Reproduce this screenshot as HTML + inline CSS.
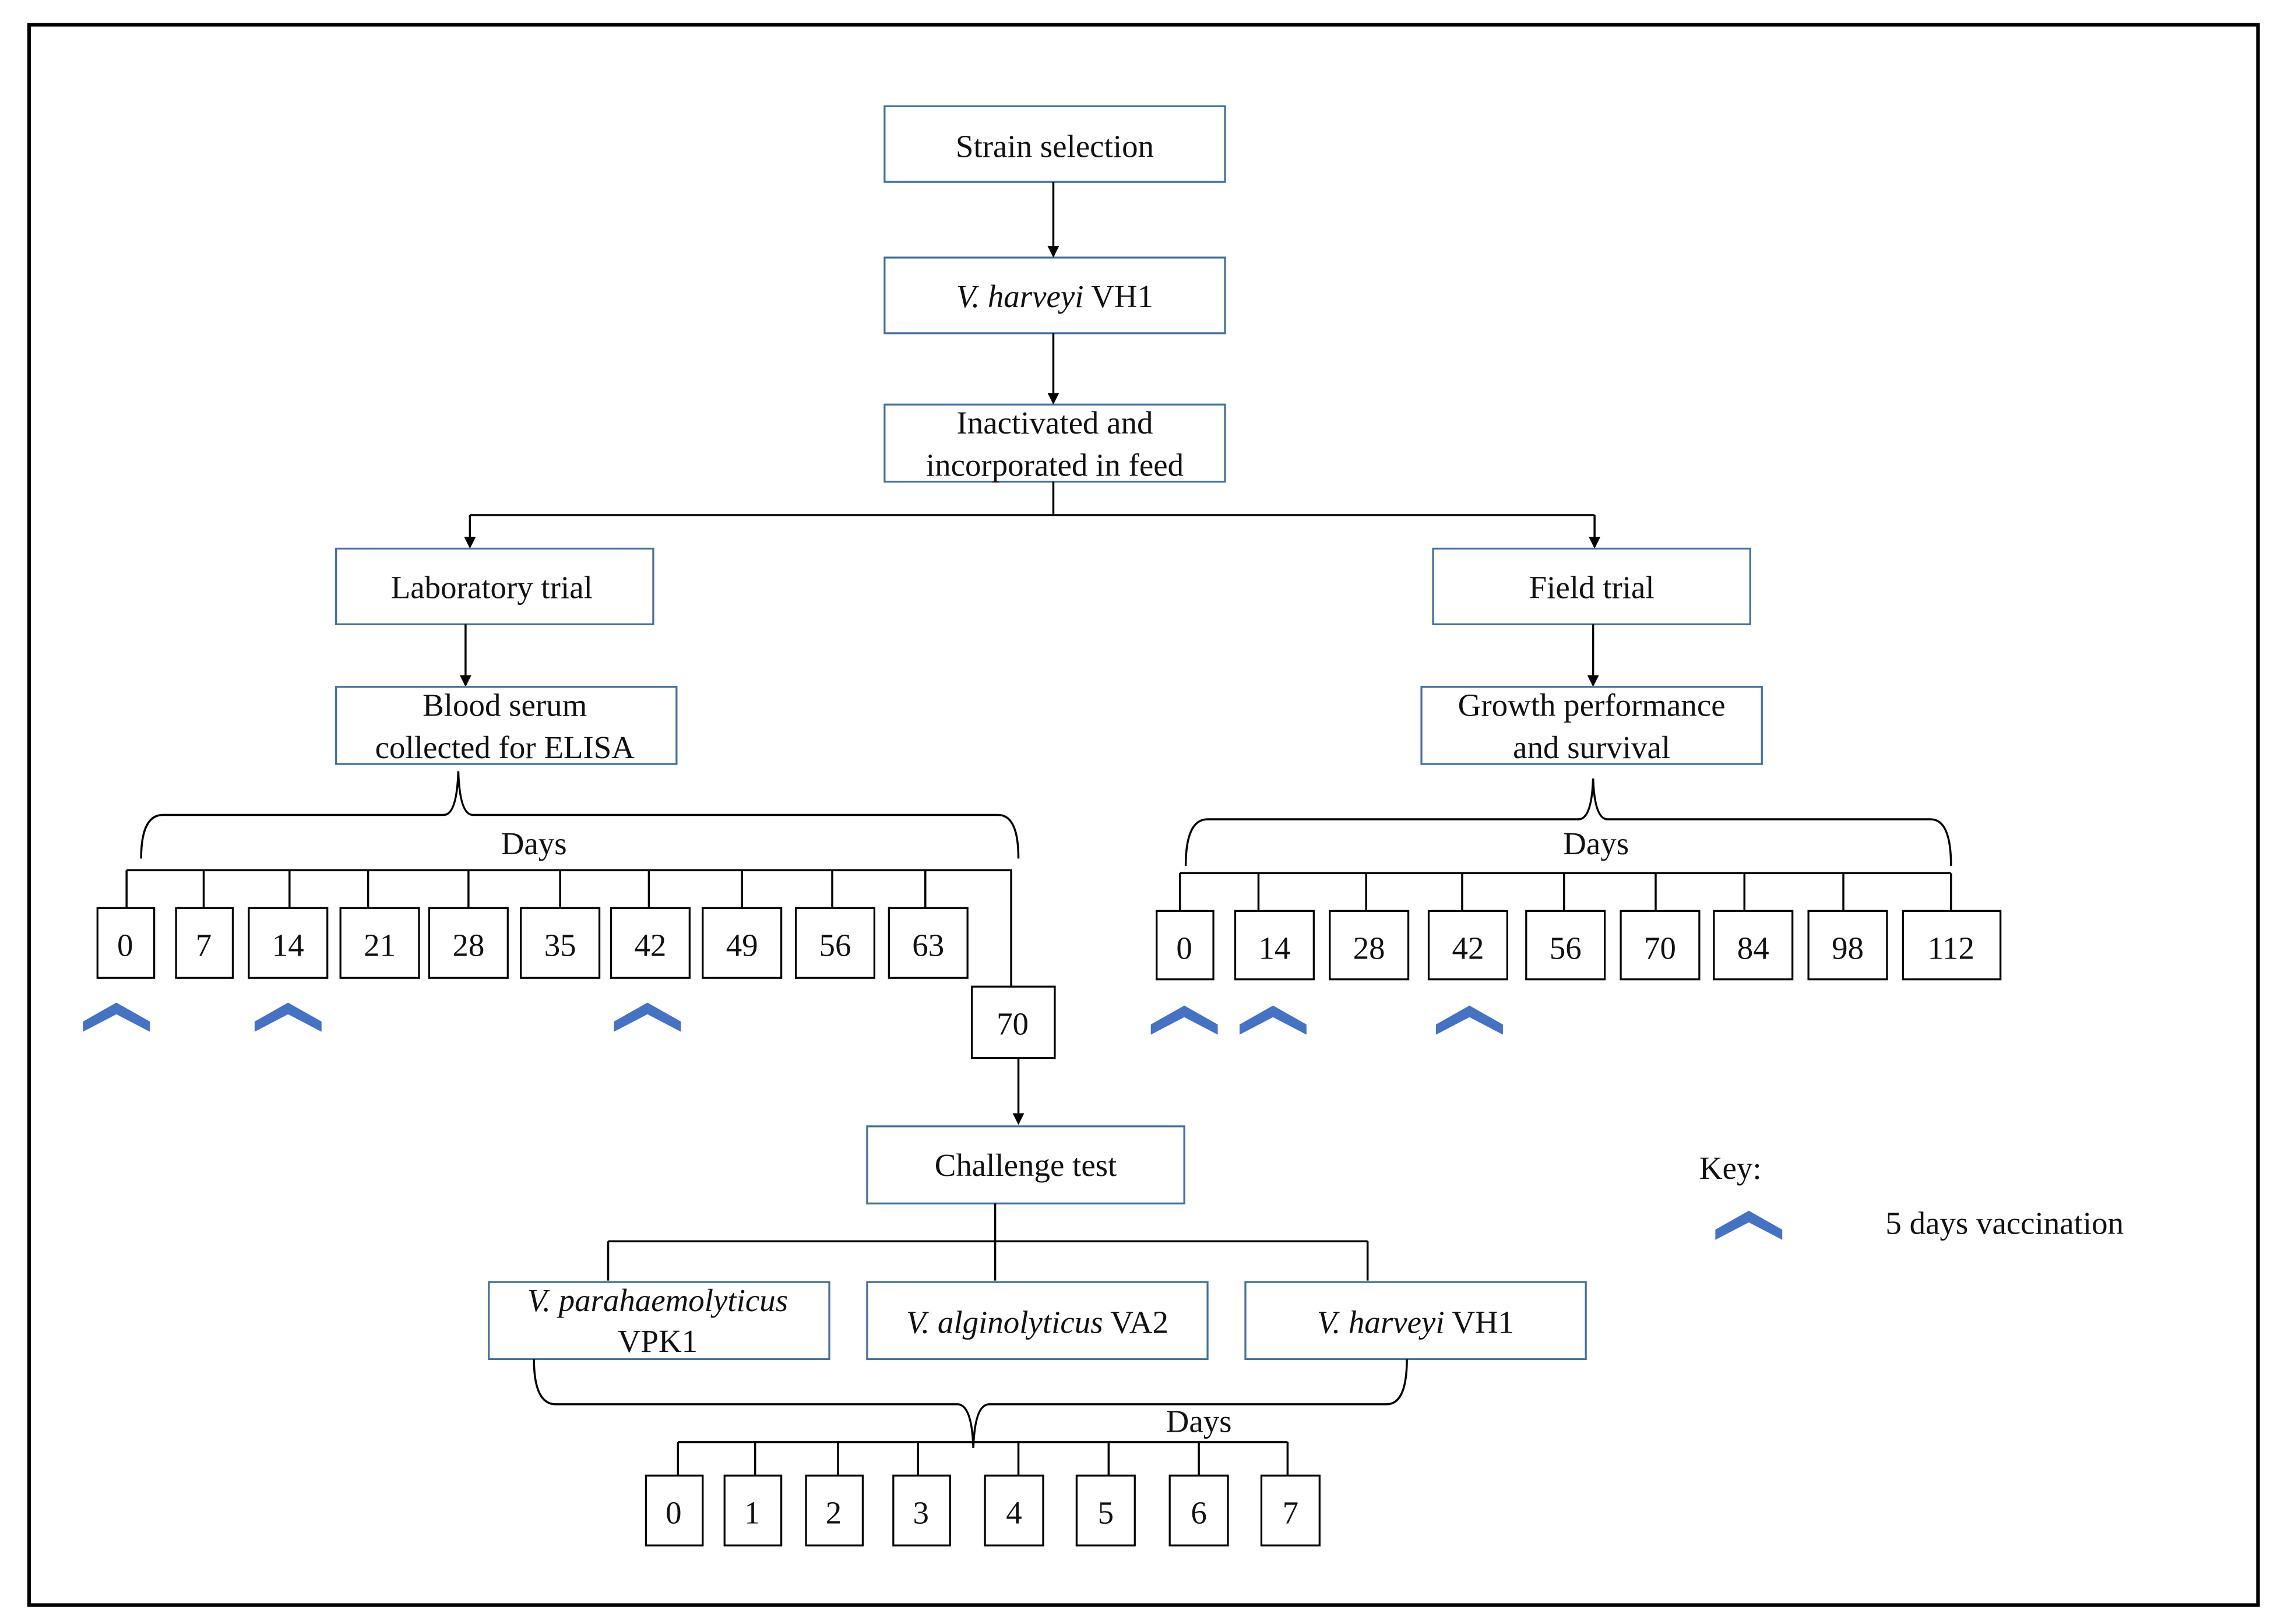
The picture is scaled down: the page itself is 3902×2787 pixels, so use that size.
<!DOCTYPE html>
<html><head><meta charset="utf-8"><style>
html,body{margin:0;padding:0;background:#fff;}
svg{display:block;}
text{font-family:"Liberation Serif",serif;font-size:22px;fill:#111;}
.b{fill:#fff;stroke:#41719c;stroke-width:1.3;}
.s{fill:#fff;stroke:#000;stroke-width:1.3;}
.l{stroke:#000;stroke-width:1.4;fill:none;}
.c{fill:#4472c4;}
</style></head><body>
<svg width="3902" height="2787" viewBox="0 0 1563 1116" preserveAspectRatio="none" xmlns="http://www.w3.org/2000/svg">
<defs><marker id="a" markerWidth="8" markerHeight="8" refX="7" refY="4" orient="auto" markerUnits="userSpaceOnUse"><path d="M0,0 L8,4 L0,8z" fill="#000"/></marker></defs>
<rect x="20" y="17" width="1532" height="1086" fill="none" stroke="#000" stroke-width="2.5"/>

<rect class="b" x="608" y="73" width="234" height="52"/><text x="725" y="108" text-anchor="middle">Strain selection</text>
<rect class="b" x="608" y="177" width="234" height="52"/><text x="725" y="211" text-anchor="middle"><tspan font-style="italic">V. harveyi</tspan> VH1</text>
<rect class="b" x="608" y="278" width="234" height="53"/><text x="725" y="298" text-anchor="middle">Inactivated and</text><text x="725" y="327" text-anchor="middle">incorporated in feed</text>
<line class="l" x1="724" y1="125" x2="724" y2="176" marker-end="url(#a)"/>
<line class="l" x1="724" y1="229" x2="724" y2="277" marker-end="url(#a)"/>
<path class="l" d="M724,331 V354 M323,354 H1096"/>
<line class="l" x1="323" y1="354" x2="323" y2="376" marker-end="url(#a)"/>
<line class="l" x1="1096" y1="354" x2="1096" y2="376" marker-end="url(#a)"/>

<rect class="b" x="231" y="377" width="218" height="52"/><text x="338" y="411" text-anchor="middle">Laboratory trial</text>
<rect class="b" x="985" y="377" width="218" height="52"/><text x="1094" y="411" text-anchor="middle">Field trial</text>
<line class="l" x1="320" y1="429" x2="320" y2="471" marker-end="url(#a)"/>
<line class="l" x1="1095" y1="429" x2="1095" y2="471" marker-end="url(#a)"/>
<rect class="b" x="231" y="472" width="234" height="53"/><text x="347" y="492" text-anchor="middle">Blood serum</text><text x="347" y="521" text-anchor="middle">collected for ELISA</text>
<rect class="b" x="977" y="472" width="234" height="53"/><text x="1094" y="492" text-anchor="middle">Growth performance</text><text x="1094" y="521" text-anchor="middle">and survival</text>

<path class="l" d="M97,590 Q97,560 112,560 H305 Q314,560 315,530 Q316,560 325,560 H686 Q700,560 700,590"/>
<text x="367" y="587" text-anchor="middle">Days</text>
<path class="l" d="M87,598 H695 V678 M87,598V624 M140,598V624 M199,598V624 M253,598V624 M322,598V624 M385,598V624 M446,598V624 M510,598V624 M572,598V624 M636,598V624"/>
<g>
<rect class="s" x="67" y="624" width="39" height="48"/><text x="86" y="657" text-anchor="middle" font-size="25">0</text>
<rect class="s" x="121" y="624" width="39" height="48"/><text x="140" y="657" text-anchor="middle" font-size="25">7</text>
<rect class="s" x="171" y="624" width="54" height="48"/><text x="198" y="657" text-anchor="middle" font-size="25">14</text>
<rect class="s" x="234" y="624" width="54" height="48"/><text x="261" y="657" text-anchor="middle" font-size="25">21</text>
<rect class="s" x="295" y="624" width="54" height="48"/><text x="322" y="657" text-anchor="middle" font-size="25">28</text>
<rect class="s" x="358" y="624" width="54" height="48"/><text x="385" y="657" text-anchor="middle" font-size="25">35</text>
<rect class="s" x="420" y="624" width="54" height="48"/><text x="447" y="657" text-anchor="middle" font-size="25">42</text>
<rect class="s" x="483" y="624" width="54" height="48"/><text x="510" y="657" text-anchor="middle" font-size="25">49</text>
<rect class="s" x="547" y="624" width="54" height="48"/><text x="574" y="657" text-anchor="middle" font-size="25">56</text>
<rect class="s" x="611" y="624" width="54" height="48"/><text x="638" y="657" text-anchor="middle" font-size="25">63</text>
<rect class="s" x="668" y="678" width="57" height="49"/><text x="696" y="711" text-anchor="middle" font-size="25">70</text>
</g>
<line class="l" x1="700" y1="727" x2="700" y2="772" marker-end="url(#a)"/>

<path class="l" d="M815,595 Q815,563 830,563 H1085 Q1094,563 1095,535 Q1096,563 1105,563 H1327 Q1341,563 1341,595"/>
<text x="1097" y="587" text-anchor="middle">Days</text>
<path class="l" d="M811,600 H1341 M811,600V626 M865,600V626 M939,600V626 M1005,600V626 M1075,600V626 M1138,600V626 M1199,600V626 M1267,600V626 M1341,600V626"/>
<g>
<rect class="s" x="795" y="626" width="39" height="47"/><text x="814" y="659" text-anchor="middle" font-size="25">0</text>
<rect class="s" x="849" y="626" width="54" height="47"/><text x="876" y="659" text-anchor="middle" font-size="25">14</text>
<rect class="s" x="914" y="626" width="54" height="47"/><text x="941" y="659" text-anchor="middle" font-size="25">28</text>
<rect class="s" x="982" y="626" width="54" height="47"/><text x="1009" y="659" text-anchor="middle" font-size="25">42</text>
<rect class="s" x="1049" y="626" width="54" height="47"/><text x="1076" y="659" text-anchor="middle" font-size="25">56</text>
<rect class="s" x="1114" y="626" width="54" height="47"/><text x="1141" y="659" text-anchor="middle" font-size="25">70</text>
<rect class="s" x="1178" y="626" width="54" height="47"/><text x="1205" y="659" text-anchor="middle" font-size="25">84</text>
<rect class="s" x="1243" y="626" width="54" height="47"/><text x="1270" y="659" text-anchor="middle" font-size="25">98</text>
<rect class="s" x="1308" y="626" width="67" height="47"/><text x="1341" y="659" text-anchor="middle" font-size="25">112</text>
</g>

<g class="c">
<path d="M57,702 L80,689 L103,702 L103,709 L80,697 L57,709z"/>
<path d="M175,702 L198,689 L221,702 L221,709 L198,697 L175,709z"/>
<path d="M422,702 L445,689 L468,702 L468,709 L445,697 L422,709z"/>
<path d="M791,704 L814,691 L837,704 L837,711 L814,699 L791,711z"/>
<path d="M852,704 L875,691 L898,704 L898,711 L875,699 L852,711z"/>
<path d="M987,704 L1010,691 L1033,704 L1033,711 L1010,699 L987,711z"/>
<path d="M1179,845 L1202,832 L1225,845 L1225,852 L1202,840 L1179,852z"/>
</g>
<text x="1168" y="810" font-size="30">Key:</text>
<text x="1296" y="848" font-size="32">5 days vaccination</text>

<rect class="b" x="596" y="774" width="218" height="53"/><text x="705" y="808" text-anchor="middle">Challenge  test</text>
<path class="l" d="M684,827 V880 M418,853 H940 M418,853 V880 M940,853 V880"/>
<rect class="b" x="336" y="881" width="234" height="53"/><text x="452" y="901" text-anchor="middle" font-style="italic">V. parahaemolyticus</text><text x="452" y="929" text-anchor="middle">VPK1</text>
<rect class="b" x="596" y="881" width="234" height="53"/><text x="713" y="916" text-anchor="middle"><tspan font-style="italic">V. alginolyticus</tspan> VA2</text>
<rect class="b" x="856" y="881" width="234" height="53"/><text x="973" y="916" text-anchor="middle"><tspan font-style="italic">V. harveyi</tspan> VH1</text>

<path class="l" d="M367,934 Q367,965 382,965 H658 Q668,965 669,995 Q670,965 680,965 H953 Q967,965 967,934"/>
<text x="824" y="984" text-anchor="middle">Days</text>
<path class="l" d="M466,991 H885 M466,991V1014 M519,991V1014 M576,991V1014 M631,991V1014 M700,991V1014 M762,991V1014 M824,991V1014 M885,991V1014"/>
<g>
<rect class="s" x="444" y="1014" width="39" height="48"/><text x="463" y="1047" text-anchor="middle" font-size="25">0</text>
<rect class="s" x="498" y="1014" width="39" height="48"/><text x="517" y="1047" text-anchor="middle" font-size="25">1</text>
<rect class="s" x="554" y="1014" width="39" height="48"/><text x="573" y="1047" text-anchor="middle" font-size="25">2</text>
<rect class="s" x="614" y="1014" width="39" height="48"/><text x="633" y="1047" text-anchor="middle" font-size="25">3</text>
<rect class="s" x="677" y="1014" width="40" height="48"/><text x="697" y="1047" text-anchor="middle" font-size="25">4</text>
<rect class="s" x="740" y="1014" width="40" height="48"/><text x="760" y="1047" text-anchor="middle" font-size="25">5</text>
<rect class="s" x="804" y="1014" width="40" height="48"/><text x="824" y="1047" text-anchor="middle" font-size="25">6</text>
<rect class="s" x="867" y="1014" width="40" height="48"/><text x="887" y="1047" text-anchor="middle" font-size="25">7</text>
</g>
</svg>
</body></html>
